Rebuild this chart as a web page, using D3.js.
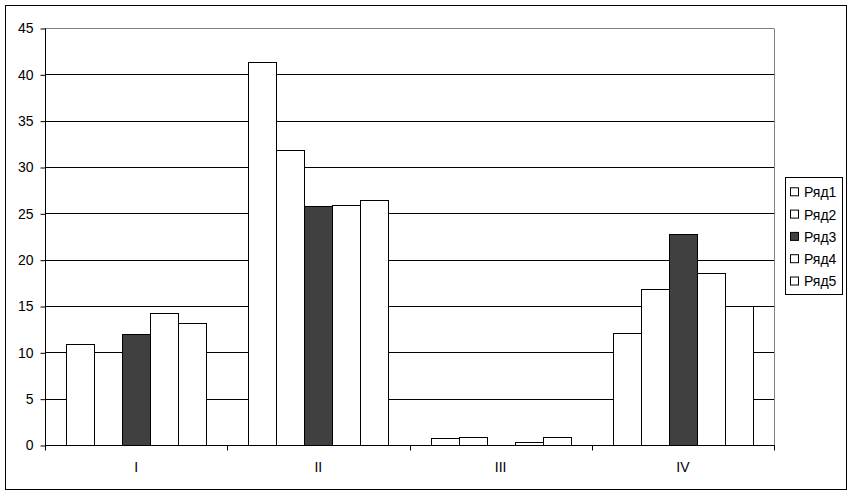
<!DOCTYPE html>
<html>
<head>
<meta charset="utf-8">
<script src="https://cdn.jsdelivr.net/npm/d3@7"></script>
<style>
  html, body { margin: 0; padding: 0; background: #fff; }
  svg { display: block; }
  text { font-family: "Liberation Sans", Arial, sans-serif; font-size: 14px; fill: #000; }
</style>
</head>
<body>
<svg id="chart" width="853" height="495"></svg>
<script>
const categories = ["I", "II", "III", "IV"];
const seriesNames = ["Ряд1", "Ряд2", "Ряд3", "Ряд4", "Ряд5"];
const seriesColors = ["#ffffff", "#ffffff", "#404040", "#ffffff", "#ffffff"];
const row1 = [10.9, 41.3, 0.72, 12.1];
const row2 = [10.0, 31.8, 0.86, 16.8];
const row3 = [11.95, 25.75, 0, 22.8];
const row4 = [14.2, 25.9, 0.32, 18.55];
const row5 = [13.2, 26.4, 0.86, 14.95];
const yTicks = [0, 5, 10, 15, 20, 25, 30, 35, 40, 45];

const seriesValues = [row1, row2, row3, row4, row5];

const svg = d3.select("#chart");
const plot = { left: 45, right: 774, top: 28, bottom: 445 };

// outer border
svg.append("rect")
  .attr("x", 5.5).attr("y", 5.5)
  .attr("width", 841).attr("height", 484)
  .attr("fill", "#fff").attr("stroke", "#000").attr("stroke-width", 1);

const y = d3.scaleLinear().domain([0, 45]).range([plot.bottom, plot.top]);
const x0 = d3.scaleBand().domain(categories).range([plot.left, plot.right]).paddingInner(0).paddingOuter(0);
const x1 = d3.scaleBand().domain(seriesNames).range([0, x0.bandwidth()]).paddingInner(0).paddingOuter(0.75);

const px = v => Math.round(v) + 0.5;

// gridlines
svg.append("g").selectAll("line")
  .data(yTicks.filter(t => t > 0))
  .join("line")
  .attr("x1", plot.left).attr("x2", plot.right)
  .attr("y1", d => px(y(d))).attr("y2", d => px(y(d)))
  .attr("stroke", d => d === 45 ? "#808080" : "#000")
  .attr("stroke-width", 1);

// right plot border (gray)
svg.append("line")
  .attr("x1", px(plot.right)).attr("x2", px(plot.right))
  .attr("y1", px(plot.top)).attr("y2", px(plot.bottom))
  .attr("stroke", "#808080");

// bars
const data = [];
categories.forEach((c, ci) => {
  seriesNames.forEach((s, si) => {
    data.push({ cat: c, ser: s, si, value: seriesValues[si][ci] });
  });
});

svg.append("g").selectAll("rect")
  .data(data.filter(d => d.value > 0))
  .join("rect")
  .attr("x", d => px(x0(d.cat) + x1(d.ser)))
  .attr("width", d => Math.round(x0(d.cat) + x1(d.ser) + x1.bandwidth()) - Math.round(x0(d.cat) + x1(d.ser)))
  .attr("y", d => px(y(d.value)))
  .attr("height", d => Math.round(y(0)) - Math.round(y(d.value)))
  .attr("fill", d => seriesColors[d.si])
  .attr("stroke", "#000")
  .attr("stroke-width", 1);

// y axis
const yAxis = d3.axisLeft(y).tickValues(yTicks).tickSize(5).tickPadding(7).tickFormat(d3.format("d"));
const yg = svg.append("g").attr("transform", `translate(${px(plot.left)},0.5)`).call(yAxis);
yg.select(".domain").attr("stroke", "#000").attr("d", `M0,${Math.round(y(45))}V${Math.round(y(0))}`);
yg.selectAll(".tick line").attr("stroke", "#000");
yg.selectAll(".tick text").style("font-family", '"Liberation Sans", Arial, sans-serif').style("font-size", "14px").attr("fill", "#000");

// x axis
const xg = svg.append("g").attr("transform", `translate(0,${px(plot.bottom)})`);
xg.append("line").attr("x1", plot.left).attr("x2", plot.right + 1).attr("y1", 0).attr("y2", 0).attr("stroke", "#000");
const bounds = categories.map(c => x0(c)).concat([plot.right]);
xg.selectAll("line.tk").data(bounds).join("line").attr("class", "tk")
  .attr("x1", d => px(d)).attr("x2", d => px(d)).attr("y1", 0).attr("y2", 5).attr("stroke", "#000");
xg.selectAll("text").data(categories).join("text")
  .attr("x", d => x0(d) + x0.bandwidth() / 2)
  .attr("y", 22)
  .attr("dy", "0.32em")
  .attr("text-anchor", "middle")
  .text(d => d);

// legend
const lg = svg.append("g");
lg.append("rect").attr("x", 785.5).attr("y", 177.5).attr("width", 57).attr("height", 117)
  .attr("fill", "#fff").attr("stroke", "#000");
const items = lg.selectAll("g.item").data(seriesNames).join("g").attr("class", "item")
  .attr("transform", (d, i) => `translate(0,${192.3 + i * 22.3})`);
items.append("rect").attr("x", 790.5).attr("y", -4.5).attr("width", 8).attr("height", 8)
  .attr("fill", (d, i) => seriesColors[i]).attr("stroke", "#000");
items.append("text").attr("x", 804).attr("y", 0).attr("dy", "0.35em").text(d => d);
</script>
</body>
</html>
